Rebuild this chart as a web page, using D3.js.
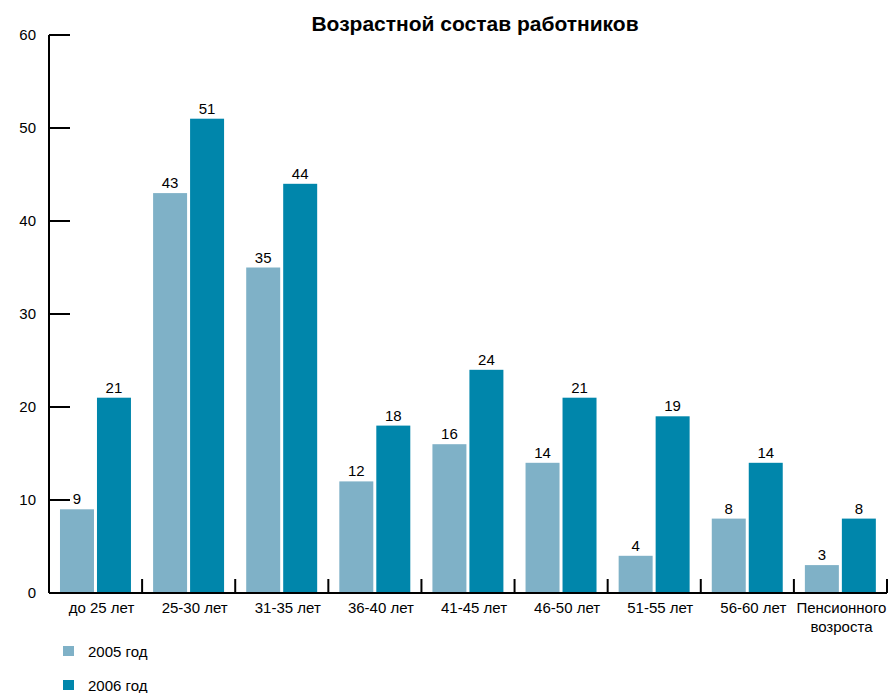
<head>
    <script src="https://d3js.org/d3.v7.min.js"></script>
</head>
<body style="margin:0">
<script>
    let categories = ["до 25 лет", "25-30 лет", "31-35 лет", "36-40 лет", "41-45 лет", "46-50 лет", "51-55 лет", "56-60 лет", "Пенсионного возроста"];
    let values2005 = [9, 43, 35, 12, 16, 14, 4, 8, 3];
    let values2006 = [21, 51, 44, 18, 24, 21, 19, 14, 8];
    let seriesNames = ["2005 год", "2006 год"];
    let yTicks = [0, 10, 20, 30, 40, 50, 60];
    let colors = ["#7fb1c7", "#0086ab"];

    let width = 889;
    let height = 693;
    let mLeft = 49, mRight = 887, mTop = 35, mBottom = 593;
    let font = "'Liberation Sans', Arial, sans-serif";

    let svg = d3.select("body").append("svg")
        .attr("width", width)
        .attr("height", height)
        .style("font-family", font);

    let x = d3.scaleBand()
        .domain(categories)
        .range([mLeft, mRight]);

    let y = d3.scaleLinear()
        .domain([0, 60])
        .range([mBottom, mTop]);

    let barW = x.bandwidth() * 0.365;
    let pad = x.bandwidth() * 0.118;

    // title
    svg.append("text")
        .attr("x", 475)
        .attr("y", 31)
        .attr("text-anchor", "middle")
        .style("font-size", "21px")
        .style("font-weight", "bold")
        .text("Возрастной состав работников");

    // y axis
    svg.append("line")
        .attr("x1", mLeft).attr("x2", mLeft)
        .attr("y1", mTop).attr("y2", mBottom)
        .attr("stroke", "black").attr("stroke-width", 2);

    svg.selectAll(".ytick")
        .data(yTicks)
        .join("line")
        .attr("class", "ytick")
        .attr("x1", mLeft).attr("x2", mLeft + 21)
        .attr("y1", d => y(d)).attr("y2", d => y(d))
        .attr("stroke", "black").attr("stroke-width", 2);

    svg.selectAll(".ylabel")
        .data(yTicks)
        .join("text")
        .attr("class", "ylabel")
        .attr("x", 36)
        .attr("y", d => y(d) + 5)
        .attr("text-anchor", "end")
        .style("font-size", "15px")
        .text(d => d);

    // x axis
    svg.append("line")
        .attr("x1", mLeft).attr("x2", mRight)
        .attr("y1", mBottom).attr("y2", mBottom)
        .attr("stroke", "black").attr("stroke-width", 2);

    svg.selectAll(".xtick")
        .data(categories)
        .join("line")
        .attr("class", "xtick")
        .attr("x1", d => x(d) + x.bandwidth()).attr("x2", d => x(d) + x.bandwidth())
        .attr("y1", mBottom).attr("y2", mBottom - 14)
        .attr("stroke", "black").attr("stroke-width", 2);

    // bars
    let series = [values2005, values2006];
    series.forEach((vals, s) => {
        let bx = d => x(categories[d]) + pad + s * (barW + 3);
        svg.selectAll(".bar" + s)
            .data(vals.map((v, i) => i))
            .join("rect")
            .attr("class", "bar" + s)
            .attr("x", i => bx(i))
            .attr("y", i => y(vals[i]))
            .attr("width", barW)
            .attr("height", i => mBottom - 1 - y(vals[i]))
            .attr("fill", colors[s]);

        svg.selectAll(".val" + s)
            .data(vals.map((v, i) => i))
            .join("text")
            .attr("class", "val" + s)
            .attr("x", i => bx(i) + barW / 2)
            .attr("y", i => y(vals[i]) - 5)
            .attr("text-anchor", "middle")
            .style("font-size", "15px")
            .text(i => vals[i]);
    });

    // category labels
    svg.selectAll(".xlabel")
        .data(categories)
        .join("text")
        .attr("class", "xlabel")
        .attr("x", d => x(d) + x.bandwidth() / 2 + 6)
        .attr("y", 613)
        .attr("text-anchor", "middle")
        .style("font-size", "15px")
        .each(function(d) {
            let words = d.split(" ");
            if (words.length === 2 && words[1].length > 4) {
                d3.select(this).append("tspan").attr("x", x(d) + x.bandwidth() / 2 + 1).text(words[0]);
                d3.select(this).append("tspan").attr("x", x(d) + x.bandwidth() / 2 + 1).attr("dy", 19).text(words[1]);
            } else {
                d3.select(this).text(d);
            }
        });

    // legend
    let legend = svg.selectAll(".legend")
        .data(seriesNames)
        .join("g")
        .attr("class", "legend")
        .attr("transform", (d, i) => `translate(63, ${646 + i * 34})`);

    legend.append("rect")
        .attr("width", 11).attr("height", 10)
        .attr("fill", (d, i) => colors[i]);

    legend.append("text")
        .attr("x", 25)
        .attr("y", 11)
        .style("font-size", "15px")
        .text(d => d);
</script>
</body>
</html>
